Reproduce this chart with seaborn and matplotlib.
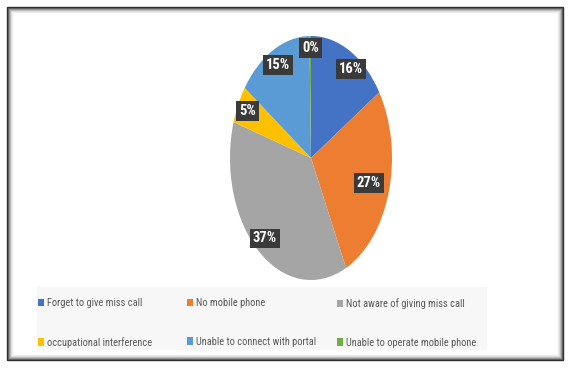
import matplotlib
matplotlib.use("Agg")
import matplotlib.pyplot as plt
import seaborn as sns
import numpy as np
from matplotlib.patches import Rectangle, Patch
from matplotlib import font_manager

categories = ["Forget to give miss call", "No mobile phone", "Not aware of giving miss call",
              "occupational interference", "Unable to connect with portal", "Unable to operate mobile phone"]
values = [16, 27, 37, 5, 15, 0.3]
labels_pct = ["16%", "27%", "37%", "5%", "15%", "0%"]
colors = ["#4472C4", "#ED7D31", "#A5A5A5", "#FFC000", "#5B9BD5", "#70AD47"]

sns.set_theme(style="white")
avail = {f.name for f in font_manager.fontManager.ttflist}
fam = [f for f in ['Liberation Sans Narrow', 'DejaVu Sans Condensed', 'Roboto Condensed'] if f in avail]
plt.rcParams['font.family'] = fam + ['DejaVu Sans']

W, H = 571, 370
fig = plt.figure(figsize=(W / 100, H / 100), dpi=100)
fig.patch.set_facecolor("white")

# frame with shadow
for i, g in enumerate([0.15, 0.35, 0.55, 0.72, 0.85, 0.93]):
    fig.add_artist(Rectangle(((7 + i) / W, (10 + i) / H), (556 - 2 * i) / W, (353 - 2 * i) / H,
                             transform=fig.transFigure, fill=False,
                             edgecolor=str(g), linewidth=1.0))

# legend background
fig.add_artist(Rectangle((37 / W, 1 - 350 / H), 450 / W, 63 / H, transform=fig.transFigure,
                         facecolor='#f7f7f7', edgecolor='none', zorder=0))

ax = fig.add_axes([230 / W, 1 - 280 / H, 162 / W, 244 / H])
wedges, texts = ax.pie(values, colors=colors, startangle=90, counterclock=False,
                       wedgeprops=dict(linewidth=0))
ax.set_aspect('auto')
ax.set_xlim(-1, 1)
ax.set_ylim(-1, 1)

cum = 0
total = sum(values)
dists = [0.88, 0.74, 0.87, 0.87, 0.86, 0.9]
shift = [5, 0, 0, 0, 0, 0]
for v, lab, d, s in zip(values, labels_pct, dists, shift):
    mid = 90 - (cum + v / 2) / total * 360 - s
    cum += v
    x = d * np.cos(np.radians(mid))
    y = d * np.sin(np.radians(mid))
    ax.text(x, y, lab, ha='center', va='center', color='white', fontsize=10.5,
            fontweight='bold',
            bbox=dict(boxstyle='square,pad=0.2', facecolor='#3a3a3a', edgecolor='none'))

# three legend columns
col_x = [38, 187, 337]
for c in range(3):
    idx = [c, c + 3]
    handles = [Patch(facecolor=colors[i], edgecolor='none') for i in idx]
    labs = [categories[i] for i in idx]
    leg = fig.legend(handles, labs, ncol=1, loc='upper left',
                     bbox_to_anchor=(col_x[c] / W, 1 - 298 / H),
                     frameon=False, fontsize=7.5, handlelength=0.55, handleheight=0.7,
                     handletextpad=0.3, labelspacing=2.75, borderpad=0, borderaxespad=0)
    for t in leg.get_texts():
        t.set_color('#595959')

fig.savefig("out.png", dpi=100)
